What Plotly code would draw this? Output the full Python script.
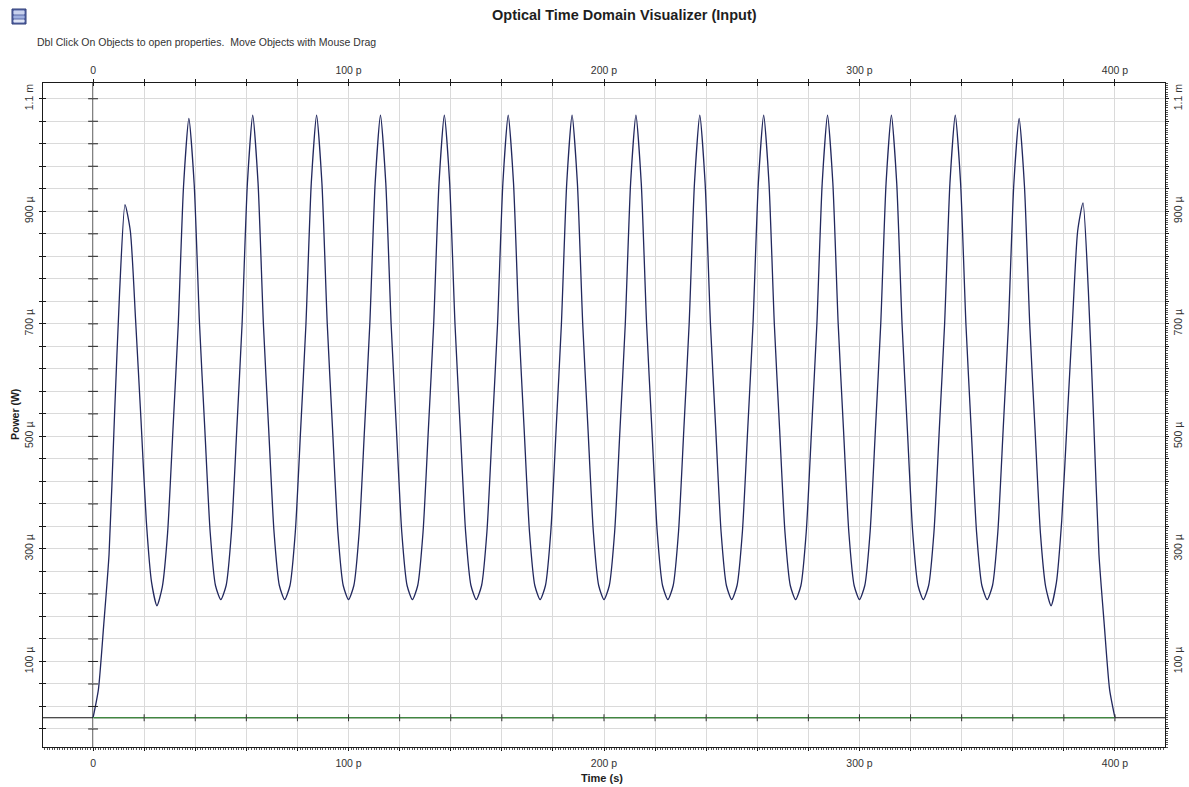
import plotly.graph_objects as go

# ---------------- data ----------------
time_step_ps = 25 / 12  # sampling step of the read-off values (12 samples per 25 ps period)
power_uW = [
    # 0 .. 25 ps (first, smaller pulse)
    0, 50, 165, 290, 530, 760, 912, 865, 705, 530, 350, 240, 199,
    # 25 .. 50 ps
    232, 328, 510, 698, 945, 1065, 948, 700, 512, 330, 235, 210,
    # 50 .. 75
    235, 330, 512, 700, 950, 1071, 950, 700, 512, 330, 235, 210,
    # 75 .. 100
    235, 330, 512, 700, 950, 1071, 950, 700, 512, 330, 235, 210,
    # 100 .. 125
    235, 330, 512, 700, 950, 1071, 950, 700, 512, 330, 235, 210,
    # 125 .. 150
    235, 330, 512, 700, 950, 1071, 950, 700, 512, 330, 235, 210,
    # 150 .. 175
    235, 330, 512, 700, 950, 1071, 950, 700, 512, 330, 235, 210,
    # 175 .. 200
    235, 330, 512, 700, 950, 1071, 950, 700, 512, 330, 235, 210,
    # 200 .. 225
    235, 330, 512, 700, 950, 1071, 950, 700, 512, 330, 235, 210,
    # 225 .. 250
    235, 330, 512, 700, 950, 1071, 950, 700, 512, 330, 235, 210,
    # 250 .. 275
    235, 330, 512, 700, 950, 1071, 950, 700, 512, 330, 235, 210,
    # 275 .. 300
    235, 330, 512, 700, 950, 1071, 950, 700, 512, 330, 235, 210,
    # 300 .. 325
    235, 330, 512, 700, 950, 1071, 950, 700, 512, 330, 235, 210,
    # 325 .. 350
    235, 330, 512, 700, 950, 1071, 950, 700, 512, 330, 235, 210,
    # 350 .. 375
    235, 330, 512, 700, 948, 1065, 945, 698, 510, 328, 232, 199,
    # 375 .. 400 (last, smaller pulse)
    240, 350, 524, 700, 865, 915, 760, 530, 290, 165, 50, 0,
]
time_ps = [i * time_step_ps for i in range(len(power_uW))]

noise_time_ps = [0, 400]
noise_power_uW = [0, 0]

x_label_vals = [0, 100, 200, 300, 400]
x_label_text = ["0", "100 p", "200 p", "300 p", "400 p"]
x_grid_vals = [0, 20, 40, 60, 80, 100, 120, 140, 160, 180, 200, 220, 240, 260,
               280, 300, 320, 340, 360, 380, 400]
y_label_vals = [100, 300, 500, 700, 900, 1100]
y_label_text = ["100 µ", "300 µ", "500 µ", "700 µ", "900 µ", "1.1 m"]
y_grid_vals = [-20, 20, 60, 100, 140, 180, 220, 260, 300, 340, 380, 420, 460, 500,
               540, 580, 620, 660, 700, 740, 780, 820, 860, 900, 940, 980, 1020,
               1060, 1100]

x_range = [-19.6, 419.6]
y_range = [-52, 1128]

# ---------------- styles ----------------
FONT = "Liberation Sans, Arial, sans-serif"
GRID = "#dadada"
FRAME = "#1a1a1a"
SIGNAL = "#22285e"
NOISE = "#3c9b3c"

x_text = [x_label_text[x_label_vals.index(v)] if v in x_label_vals else "" for v in x_grid_vals]
y_text = [y_label_text[y_label_vals.index(v)] if v in y_label_vals else "" for v in y_grid_vals]

fig = go.Figure()

fig.add_trace(go.Scatter(
    x=time_ps, y=power_uW, mode="lines",
    line=dict(color=SIGNAL, width=1.3, shape="spline", smoothing=0.6),
    hoverinfo="skip", showlegend=False))

fig.add_trace(go.Scatter(
    x=noise_time_ps, y=noise_power_uW, mode="lines",
    line=dict(color=NOISE, width=1.2),
    hoverinfo="skip", showlegend=False))

# small tick crosses on the zero lines
zero_x_ticks = [v for v in x_grid_vals if v != 0]
fig.add_trace(go.Scatter(
    x=zero_x_ticks, y=[0] * len(zero_x_ticks),
    mode="markers", marker=dict(symbol="line-ns", size=5, line=dict(color="#333", width=1)),
    hoverinfo="skip", showlegend=False))
fig.add_trace(go.Scatter(
    x=[0] * len(y_grid_vals), y=y_grid_vals,
    mode="markers", marker=dict(symbol="line-ew", size=7, line=dict(color="#222", width=1)),
    hoverinfo="skip", showlegend=False))

tickfont = dict(family=FONT, size=10.5, color="#333")

common_x = dict(range=x_range, showline=True, linecolor=FRAME, linewidth=1,
                zeroline=False, fixedrange=True, automargin=False)
common_y = dict(range=y_range, showline=True, linecolor=FRAME, linewidth=1,
                zeroline=False, fixedrange=True, automargin=False)

fig.update_layout(
    width=1189, height=787, autosize=False,
    margin=dict(l=43, r=24, t=83, b=40),
    paper_bgcolor="white", plot_bgcolor="white",
    xaxis=dict(**common_x, side="bottom", tickmode="array", tickvals=x_grid_vals, ticktext=x_text,
               showgrid=True, gridcolor=GRID, gridwidth=1,
               ticks="outside", ticklen=3, tickcolor=FRAME, tickfont=tickfont,
               ticklabelstandoff=3,
               minor=dict(dtick=1, ticks="outside", ticklen=2, tickcolor="#555", showgrid=False)),
    xaxis2=dict(**common_x, overlaying="x", side="top", tickmode="array", tickvals=x_grid_vals,
                ticktext=x_text, showgrid=False, ticks="outside", ticklen=3, tickcolor=FRAME,
                tickfont=tickfont, ticklabelstandoff=1),
    xaxis3=dict(**common_x, overlaying="x", side="top", tickmode="array", tickvals=x_grid_vals,
                showticklabels=False, showgrid=False, ticks="inside", ticklen=3, tickcolor=FRAME),
    yaxis=dict(**common_y, side="left", tickmode="array", tickvals=y_grid_vals, ticktext=y_text,
               showgrid=True, gridcolor=GRID, gridwidth=1,
               ticks="outside", ticklen=3, tickcolor=FRAME, tickfont=tickfont, tickangle=-90,
               ticklabelstandoff=2),
    yaxis2=dict(**common_y, overlaying="y", side="right", tickmode="array", tickvals=y_grid_vals,
                ticktext=y_text, showgrid=False, ticks="outside", ticklen=3, tickcolor=FRAME,
                tickfont=tickfont, tickangle=-90, ticklabelstandoff=0,
                minor=dict(dtick=4, ticks="outside", ticklen=2, tickcolor="#555", showgrid=False)),
    yaxis3=dict(**common_y, overlaying="y", side="left", tickmode="array", tickvals=y_grid_vals,
                showticklabels=False, showgrid=False, ticks="inside", ticklen=3, tickcolor=FRAME),
)

# dummy traces to activate the overlay axes
fig.add_trace(go.Scatter(x=[None], y=[None], xaxis="x2", yaxis="y2", showlegend=False, hoverinfo="skip"))
fig.add_trace(go.Scatter(x=[None], y=[None], xaxis="x3", yaxis="y3", showlegend=False, hoverinfo="skip"))

plot_w = 1189 - 43 - 24
plot_h = 787 - 83 - 40


def px_x(px):
    return (px - 43) / plot_w


def px_y(py):
    return (747 - py) / plot_h


annotations = [
    dict(text="<b>Optical Time Domain Visualizer (Input)</b>", x=px_x(624), y=px_y(15),
         xanchor="center", yanchor="middle", font=dict(family=FONT, size=14.5, color="#1e1e1e")),
    dict(text="Dbl Click On Objects to open properties.  Move Objects with Mouse Drag",
         x=px_x(35), y=px_y(42), xanchor="left", yanchor="middle",
         font=dict(family=FONT, size=10.5, color="#333")),
    dict(text="<b>Power (W)</b>", x=px_x(15), y=px_y(415), textangle=-90,
         xanchor="center", yanchor="middle", font=dict(family=FONT, size=10.5, color="#1e1e1e")),
    dict(text="<b>Time (s)</b>", x=px_x(602), y=px_y(778),
         xanchor="center", yanchor="middle", font=dict(family=FONT, size=11, color="#1e1e1e")),
]
for a in annotations:
    a.update(xref="paper", yref="paper", showarrow=False)
fig.update_layout(annotations=annotations)

# small window icon at the top-left corner
icon = [
    dict(x0=12, x1=26, y0=9, y1=24, fill="#5a6aa8", line="#2f3d78"),
    dict(x0=14, x1=24, y0=11, y1=14, fill="#c9d2ee", line="#c9d2ee"),
    dict(x0=14, x1=24, y0=16, y1=18, fill="#9fb0e0", line="#9fb0e0"),
    dict(x0=14, x1=24, y0=20, y1=22, fill="#dfe5f5", line="#dfe5f5"),
]
for r in icon:
    fig.add_shape(type="rect", xref="paper", yref="paper",
                  x0=px_x(r["x0"]), x1=px_x(r["x1"]), y0=px_y(r["y1"]), y1=px_y(r["y0"]),
                  fillcolor=r["fill"], line=dict(color=r["line"], width=1), layer="above")

# black zero lines (horizontal y=0 and vertical x=0)
fig.add_shape(type="line", xref="x", yref="y", x0=x_range[0], x1=x_range[1], y0=0, y1=0,
              line=dict(color="#111", width=1.2), layer="below")
fig.add_shape(type="line", xref="x", yref="y", x0=0, x1=0, y0=y_range[0], y1=y_range[1],
              line=dict(color="#111", width=1.2), layer="below")

fig.write_html("out.html", config={"displayModeBar": False},
               post_script="document.body.style.margin='0';document.body.style.overflow='hidden';")
